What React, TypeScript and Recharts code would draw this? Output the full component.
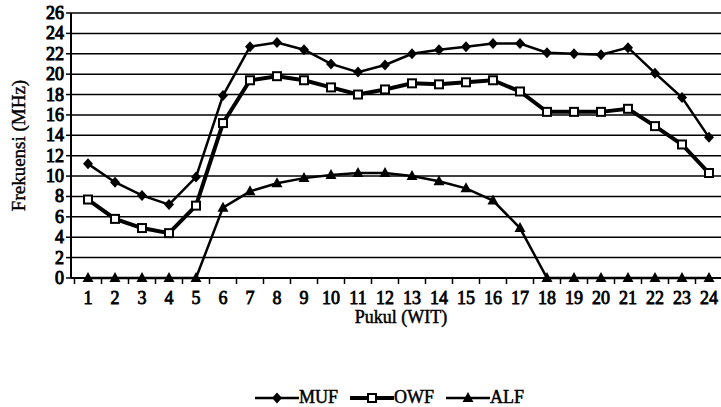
import React from "react";
import {
  LineChart,
  Line,
  XAxis,
  YAxis,
  CartesianGrid,
  Legend,
} from "recharts";

const hours = [
  "1", "2", "3", "4", "5", "6", "7", "8", "9", "10", "11", "12",
  "13", "14", "15", "16", "17", "18", "19", "20", "21", "22", "23", "24",
];
const muf = [
  11.2, 9.4, 8.1, 7.2, 9.9, 17.9, 22.7, 23.1, 22.4, 21.0, 20.2, 20.9,
  22.0, 22.4, 22.7, 23.0, 23.0, 22.1, 22.0, 21.9, 22.6, 20.1, 17.7, 13.8,
];
const owf = [
  7.7, 5.8, 4.9, 4.4, 7.1, 15.2, 19.4, 19.8, 19.4, 18.7, 18.0, 18.5,
  19.1, 19.0, 19.2, 19.4, 18.3, 16.3, 16.3, 16.3, 16.6, 14.9, 13.1, 10.3,
];
const alf = [
  0, 0, 0, 0, 0, 6.9, 8.5, 9.3, 9.8, 10.1, 10.3, 10.3,
  10.0, 9.5, 8.8, 7.6, 4.9, 0, 0, 0, 0, 0, 0, 0,
];
const yTicks = [0, 2, 4, 6, 8, 10, 12, 14, 16, 18, 20, 22, 24, 26];

const data = hours.map((h, i) => ({ hour: h, MUF: muf[i], OWF: owf[i], ALF: alf[i] }));

// no bold serif face available, so thicken the regular one with a stroke
const FONT = "'Liberation Serif', 'Times New Roman', serif";
const W = 721;
const H = 407;
const LEFT = 71;
const BAND = 27;

const txt = { fontFamily: FONT, fontWeight: 400, fill: "#000", stroke: "#000", strokeWidth: 0.8 };

const Diamond = ({ cx, cy }: any) =>
  cx == null ? null : (
    <path d={`M${cx},${cy - 5.5}L${cx + 5},${cy}L${cx},${cy + 5.5}L${cx - 5},${cy}Z`} fill="#000" />
  );

const Square = ({ cx, cy }: any) =>
  cx == null ? null : (
    <rect x={cx - 4} y={cy - 4} width={8} height={8} fill="#fff" stroke="#000" strokeWidth={2} />
  );

const Triangle = ({ cx, cy }: any) =>
  cx == null ? null : (
    <path d={`M${cx},${cy - 6}L${cx + 5.5},${cy + 4}L${cx - 5.5},${cy + 4}Z`} fill="#000" />
  );

const XTick = ({ x, y, payload }: any) => (
  <g>
    <line x1={x - BAND / 2} x2={x - BAND / 2} y1={y - 8} y2={y - 2} stroke="#000" strokeWidth={1.5} />
    <text x={x} y={y + 18} textAnchor="middle" style={{ ...txt, fontSize: 18 }}>
      {payload.value}
    </text>
  </g>
);

const YTick = ({ x, y, payload }: any) => (
  <text x={x} y={y + 6} textAnchor="end" style={{ ...txt, strokeWidth: 1, fontSize: 18 }}>
    {payload.value}
  </text>
);

const YLabel = ({ viewBox }: any) => {
  const cx = 18;
  const cy = viewBox.y + viewBox.height / 2;
  return (
    <text x={cx} y={cy} transform={`rotate(-90 ${cx} ${cy})`} textAnchor="middle" dominantBaseline="central" style={{ ...txt, strokeWidth: 0.4, fontSize: 19 }}>
      Frekuensi (MHz)
    </text>
  );
};

const XLabel = ({ viewBox }: any) => (
  <text x={viewBox.x + viewBox.width / 2 + 5} y={viewBox.y + 45} textAnchor="middle" style={{ ...txt, strokeWidth: 0.5, fontSize: 18 }}>
    Pukul (WIT)
  </text>
);

const legendItems = [
  { name: "MUF", icon: "diamond", sw: 2.5 },
  { name: "OWF", icon: "square", sw: 4 },
  { name: "ALF", icon: "triangle", sw: 2.5 },
];

const LegendContent = () => (
  <div style={{ display: "flex", justifyContent: "center", paddingLeft: 70, paddingTop: 30, fontFamily: FONT, fontSize: 18, color: "#000", WebkitTextStroke: "0.5px #000" }}>
    {legendItems.map((it) => (
      <span key={it.name} style={{ display: "flex", alignItems: "center", marginRight: 12 }}>
        <svg width={44} height={14}>
          <line x1={0} x2={44} y1={7} y2={7} stroke="#000" strokeWidth={it.sw} />
          {it.icon === "diamond" ? <Diamond cx={22} cy={7} /> : null}
          {it.icon === "square" ? <Square cx={22} cy={7} /> : null}
          {it.icon === "triangle" ? <Triangle cx={22} cy={7} /> : null}
        </svg>
        <span>{it.name}</span>
      </span>
    ))}
  </div>
);

export default function App() {
  return (
    <div style={{ position: "absolute", left: 0, top: 0, width: W, height: H, background: "#fff" }}>
      <LineChart width={W} height={H} data={data} margin={{ top: 13, right: 0, left: 0, bottom: 0 }}>
        <CartesianGrid vertical={false} stroke="#000" strokeWidth={1.5} />
        <XAxis
          dataKey="hour"
          height={79}
          padding={{ left: 17, right: 12 }}
          axisLine={{ stroke: "#000", strokeWidth: 2 }}
          tickLine={false}
          tick={<XTick />}
          interval={0}
          label={<XLabel />}
        />
        <YAxis
          width={LEFT}
          domain={[0, 26]}
          ticks={yTicks}
          interval={0}
          axisLine={{ stroke: "#000", strokeWidth: 2 }}
          tickLine={{ stroke: "#000", strokeWidth: 1.5 }}
          tickSize={5}
          tick={<YTick />}
          label={<YLabel />}
        />
        <Legend verticalAlign="bottom" height={50} content={<LegendContent />} />
        <Line type="linear" dataKey="MUF" stroke="#000" strokeWidth={2.5} dot={<Diamond />} isAnimationActive={false} />
        <Line type="linear" dataKey="OWF" stroke="#000" strokeWidth={4} dot={<Square />} isAnimationActive={false} />
        <Line type="linear" dataKey="ALF" stroke="#000" strokeWidth={2.5} dot={<Triangle />} isAnimationActive={false} />
      </LineChart>
    </div>
  );
}
